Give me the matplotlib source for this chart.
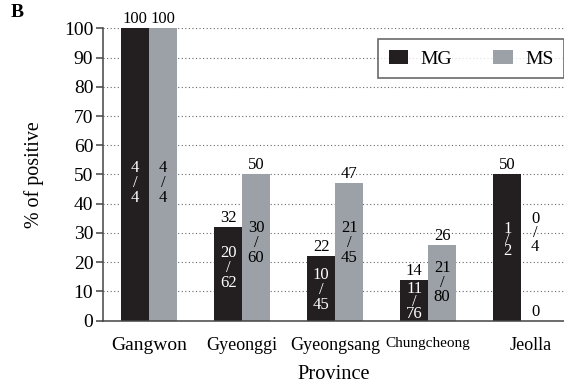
import matplotlib.pyplot as plt
import numpy as np

plt.rcParams["font.family"] = ["Liberation Serif", "DejaVu Serif"]

provinces = ["Gangwon", "Gyeonggi", "Gyeongsang", "Chungcheong", "Jeolla"]
mg_pct = [100, 32, 22, 14, 50]
ms_pct = [100, 50, 47, 26, 0]
mg_pos = [4, 20, 10, 11, 1]
mg_n = [4, 62, 45, 76, 2]
ms_pos = [4, 30, 21, 21, 0]
ms_n = [4, 60, 45, 80, 4]

# where the stacked "k / n" labels sit inside the bars
mg_frac_y = [47, 18, 10.5, 6.5, 27.5]
ms_frac_y = [47, 26.5, 26.5, 13, 30]
mg_frac_ls = [0.9, 0.9, 0.9, 0.72, 0.6]
ms_frac_ls = [0.9, 0.9, 0.9, 0.9, 0.8]

MG_COLOR = "#231f20"
MS_COLOR = "#9ba1a6"

fig = plt.figure(figsize=(5.64, 3.87), dpi=100)
ax = fig.add_axes([0.1826, 0.1713, 0.8174, 0.7556])

x = np.arange(len(provinces))
w = 0.30
ax.bar(x - w / 2, mg_pct, w, color=MG_COLOR, label="MG", zorder=2)
ax.bar(x + w / 2, ms_pct, w, color=MS_COLOR, label="MS", zorder=2)

ax.set_xlim(-0.495, 4.46)
ax.set_ylim(0, 100)
ax.set_yticks(range(0, 101, 10))
ax.yaxis.grid(True, linestyle=(0, (1, 2.2)), color="#666666", linewidth=0.8)
ax.set_axisbelow(True)

for side in ["top", "right"]:
    ax.spines[side].set_visible(False)
for side in ["left", "bottom"]:
    ax.spines[side].set_color("#444444")
    ax.spines[side].set_linewidth(1.1)
ax.tick_params(axis="y", direction="out", length=5, width=1.1, color="#444444",
               labelsize=14, pad=2)
ax.tick_params(axis="x", length=0, pad=12)

# last label sits a little right of its group
tick_x = x.astype(float)
tick_x[-1] += 0.1
ax.set_xticks(tick_x)
ax.set_xticklabels(provinces, fontsize=13)
ax.get_xticklabels()[0].set_fontsize(14)
ax.get_xticklabels()[3].set_fontsize(11)

# value labels on top
for xi, v in zip(x, mg_pct):
    ax.text(xi - w / 2, v + 0.4, str(v), ha="center", va="bottom", fontsize=12, zorder=3)
for xi, v in zip(x, ms_pct):
    ax.text(xi + w / 2, v + 0.4, str(v), ha="center", va="bottom", fontsize=12, zorder=3)

# counts inside the bars
for i in range(len(provinces)):
    ax.text(x[i] - w / 2, mg_frac_y[i], f"{mg_pos[i]}\n/\n{mg_n[i]}", ha="center",
            va="center", color="white", fontsize=12, linespacing=mg_frac_ls[i], zorder=3)
    ax.text(x[i] + w / 2, ms_frac_y[i], f"{ms_pos[i]}\n/\n{ms_n[i]}", ha="center",
            va="center", color="black", fontsize=12, linespacing=ms_frac_ls[i], zorder=3)

ax.set_ylabel("% of positive", fontsize=14.4, labelpad=14)
ax.set_xlabel("Province", fontsize=14.7, labelpad=8)

leg = ax.legend(loc="upper left", bbox_to_anchor=(378 / 564, 1 - 39 / 387),
                bbox_transform=fig.transFigure, ncol=2, fontsize=14, frameon=True,
                fancybox=False, handlelength=1.0, handleheight=0.75, columnspacing=2.1,
                borderpad=0.55, handletextpad=0.65, borderaxespad=0)
leg.get_frame().set_edgecolor("#444444")
leg.get_frame().set_linewidth(1.2)

fig.text(0.018, 0.955, "B", fontsize=14, fontweight="bold")

fig.savefig("out.png", dpi=100)
